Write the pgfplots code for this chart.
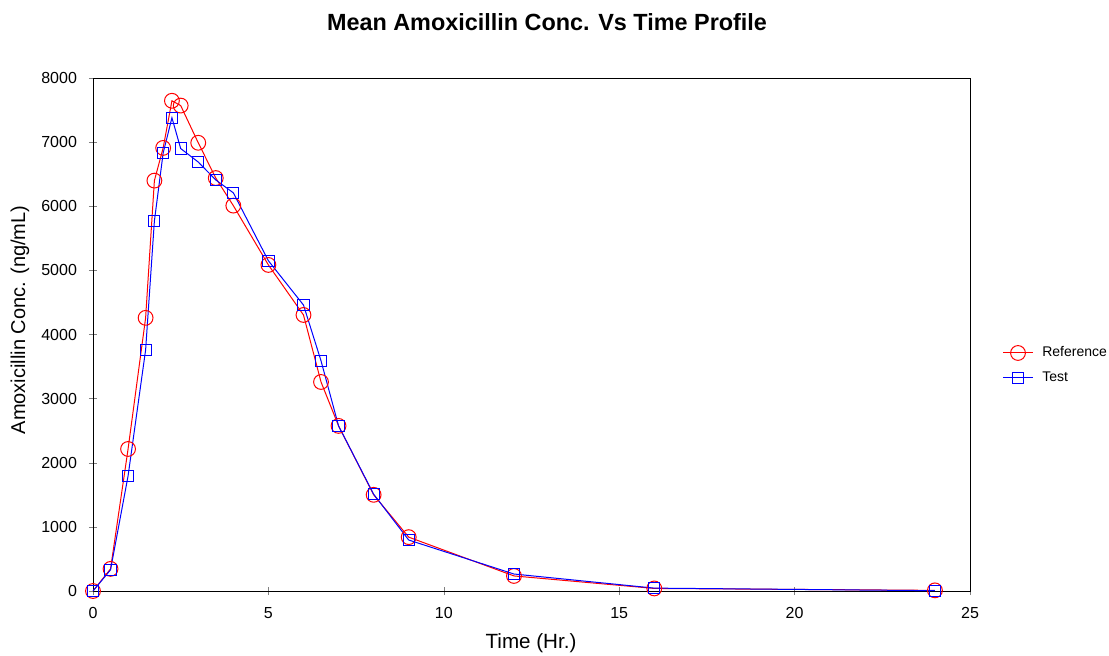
\documentclass[border=0pt]{standalone}
\usepackage{fontspec}
\setmainfont{Liberation Sans}
\usepackage{pgfplots}
\pgfplotsset{compat=1.18}

\begin{document}
\begin{tikzpicture}
\begin{axis}[
  at={(0,0)},anchor=south west,
  scale only axis,width=438.5pt,height=256.5pt,
  xmin=0,xmax=25,ymin=0,ymax=8000,
  xtick={0,5,...,25},ytick={0,1000,...,8000},
  tick pos=left,tick align=center,major tick length=4pt,
  /pgf/number format/assume math mode=true,
  /pgf/number format/1000 sep={},
  tick label style={font=\fontsize{8}{9.5}\selectfont},
  xticklabel style={yshift=-2.5pt},
  yticklabel style={xshift=-2.5pt},
  scaled y ticks=false,
  legend style={draw=none,fill=none,at={(1.03,0.44)},anchor=west,
    font=\fontsize{7}{8.5}\selectfont,row sep=2pt,
    nodes={inner xsep=4.5pt}},
  legend cell align=left,
  legend image code/.code={\draw[mark repeat=2,mark phase=2] plot coordinates {(0cm,0cm) (0.26cm,0cm) (0.52cm,0cm)};},
]
% Reference formulation
\addplot[red,line width=0.5pt,mark=o,mark size=3.7pt,mark options={solid,line width=0.5pt}] coordinates {
(0,0) (0.5,345) (1,2215) (1.5,4260) (1.75,6400) (2,6910) (2.25,7645) (2.5,7570)
(3,6990) (3.5,6440) (4,6010) (5,5085) (6,4305) (6.5,3260) (7,2575) (8,1500)
(9,840) (12,235) (16,40) (24,10)};
\addlegendentry{Reference}
% Test formulation
\addplot[blue,line width=0.5pt,mark=square,mark size=2.8pt,mark options={solid,line width=0.5pt}] coordinates {
(0,0) (0.5,330) (1,1795) (1.5,3760) (1.75,5770) (2,6830) (2.25,7380) (2.5,6900)
(3,6690) (3.5,6410) (4,6210) (5,5150) (6,4460) (6.5,3590) (7,2575) (8,1510)
(9,795) (12,265) (16,45) (24,5)};
\addlegendentry{Test}
\end{axis}
\node[font=\fontsize{11.7}{14}\selectfont\bfseries] at (227pt,284.5pt) {Mean Amoxicillin Conc. Vs Time Profile};
\node[font=\fontsize{10.3}{12.5}\selectfont] at (219pt,-26pt) {Time (Hr.)};
\node[font=\fontsize{10}{12}\selectfont,rotate=90] at (-36.5pt,135.5pt) {Amoxicillin Conc. (ng/mL)};
\pgfresetboundingbox
\path (-46.5pt,-32pt) rectangle (508pt,295.5pt);
\end{tikzpicture}
\end{document}
